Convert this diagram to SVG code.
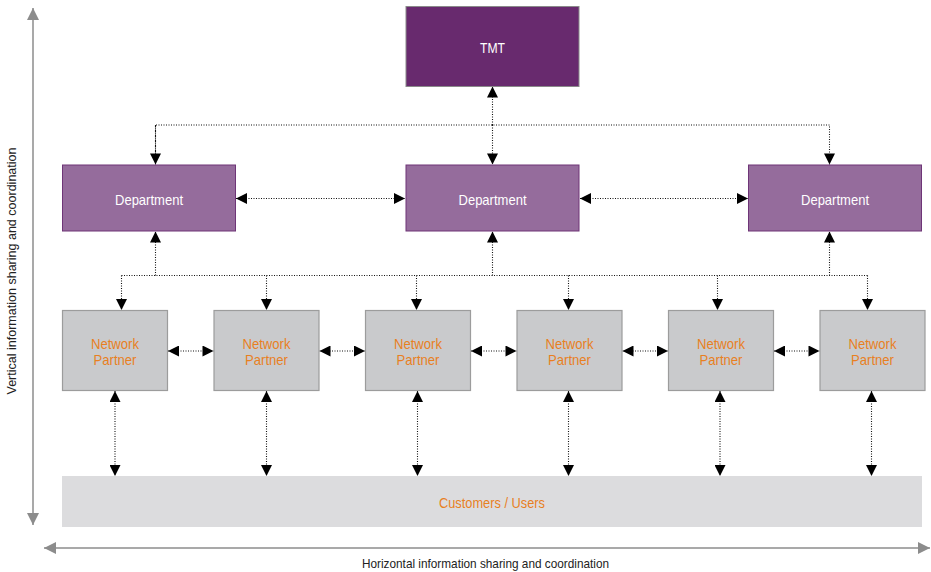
<svg xmlns="http://www.w3.org/2000/svg" width="931" height="572" viewBox="0 0 931 572">
<style>
.tmt{fill:#682a6e;stroke:#8a8a8a;stroke-width:1}
.dept{fill:#956c9c;stroke:#6e3577;stroke-width:1}
.np{fill:#c9cacc;stroke:#9c9c9c;stroke-width:1.2}
.cust{fill:#dcdcde}
.wt{fill:#ffffff;font-family:"Liberation Sans",Arial,sans-serif;font-size:15px;text-anchor:middle}
.ot{fill:#e8801f;font-family:"Liberation Sans",Arial,sans-serif;font-size:15px;text-anchor:middle}
.lab{fill:#222222;font-family:"Liberation Sans",Arial,sans-serif;font-size:13px;text-anchor:middle}
.dot{fill:none;stroke:#111111;stroke-width:1.1;stroke-dasharray:1 1.5}
.axis{fill:none;stroke:#8c8c8c;stroke-width:1.5}
</style>
<defs>
<marker id="ah" viewBox="0 0 10 10" refX="10" refY="5" markerWidth="15" markerHeight="11" markerUnits="userSpaceOnUse" orient="auto-start-reverse">
<path d="M0,0 L10,5 L0,10 z" fill="#000000"/>
</marker>
<marker id="ga" viewBox="0 0 10 10" refX="10" refY="5" markerWidth="16" markerHeight="12" markerUnits="userSpaceOnUse" orient="auto-start-reverse">
<path d="M0,0 L10,5 L0,10 z" fill="#8c8c8c"/>
</marker>
</defs>

<g id="axes">
<line class="axis" x1="33" y1="8" x2="33" y2="525" marker-start="url(#ga)" marker-end="url(#ga)"/>
<line class="axis" x1="44" y1="548" x2="930" y2="548" marker-start="url(#ga)" marker-end="url(#ga)"/>
<text class="lab" transform="translate(16,271) rotate(-90)" textLength="247" lengthAdjust="spacingAndGlyphs">Vertical information sharing and coordination</text>
<text class="lab" x="485.5" y="568" textLength="247" lengthAdjust="spacingAndGlyphs">Horizontal information sharing and coordination</text>
</g>

<g id="connectors">
<!-- TMT to departments -->
<line class="dot" x1="492.5" y1="125" x2="492.5" y2="86.5" marker-end="url(#ah)"/>
<line class="dot" x1="492.5" y1="125" x2="492.5" y2="164.5" marker-end="url(#ah)"/>
<polyline class="dot" points="155.5,164.5 155.5,125 829.5,125 829.5,164.5" marker-end="url(#ah)"/>
<line class="dot" x1="155.5" y1="125" x2="155.5" y2="164.5" marker-end="url(#ah)"/>
<!-- department to department -->
<line class="dot" x1="236" y1="198.5" x2="405" y2="198.5" marker-start="url(#ah)" marker-end="url(#ah)"/>
<line class="dot" x1="580" y1="198.5" x2="748" y2="198.5" marker-start="url(#ah)" marker-end="url(#ah)"/>
<!-- departments to network partners -->
<line class="dot" x1="121.5" y1="275.5" x2="867.5" y2="275.5"/>
<line class="dot" x1="155.5" y1="275.5" x2="155.5" y2="231.5" marker-end="url(#ah)"/>
<line class="dot" x1="492.5" y1="275.5" x2="492.5" y2="231.5" marker-end="url(#ah)"/>
<line class="dot" x1="829.5" y1="275.5" x2="829.5" y2="231.5" marker-end="url(#ah)"/>
<line class="dot" x1="121.5" y1="275.5" x2="121.5" y2="310" marker-end="url(#ah)"/>
<line class="dot" x1="266.5" y1="275.5" x2="266.5" y2="310" marker-end="url(#ah)"/>
<line class="dot" x1="416.5" y1="275.5" x2="416.5" y2="310" marker-end="url(#ah)"/>
<line class="dot" x1="568.5" y1="275.5" x2="568.5" y2="310" marker-end="url(#ah)"/>
<line class="dot" x1="717.5" y1="275.5" x2="717.5" y2="310" marker-end="url(#ah)"/>
<line class="dot" x1="867.5" y1="275.5" x2="867.5" y2="310" marker-end="url(#ah)"/>
<!-- network partner to network partner -->
<line class="dot" x1="168" y1="351" x2="213.5" y2="351" marker-start="url(#ah)" marker-end="url(#ah)"/>
<line class="dot" x1="319.5" y1="351" x2="365" y2="351" marker-start="url(#ah)" marker-end="url(#ah)"/>
<line class="dot" x1="471" y1="351" x2="516.5" y2="351" marker-start="url(#ah)" marker-end="url(#ah)"/>
<line class="dot" x1="622.5" y1="351" x2="668" y2="351" marker-start="url(#ah)" marker-end="url(#ah)"/>
<line class="dot" x1="774" y1="351" x2="819.5" y2="351" marker-start="url(#ah)" marker-end="url(#ah)"/>
<!-- network partners to customers -->
<line class="dot" x1="115" y1="391" x2="115" y2="476" marker-start="url(#ah)" marker-end="url(#ah)"/>
<line class="dot" x1="266.5" y1="391" x2="266.5" y2="476" marker-start="url(#ah)" marker-end="url(#ah)"/>
<line class="dot" x1="417.5" y1="391" x2="417.5" y2="476" marker-start="url(#ah)" marker-end="url(#ah)"/>
<line class="dot" x1="568.5" y1="391" x2="568.5" y2="476" marker-start="url(#ah)" marker-end="url(#ah)"/>
<line class="dot" x1="720" y1="391" x2="720" y2="476" marker-start="url(#ah)" marker-end="url(#ah)"/>
<line class="dot" x1="871.5" y1="391" x2="871.5" y2="476" marker-start="url(#ah)" marker-end="url(#ah)"/>
</g>

<g id="tmt">
<rect class="tmt" x="406" y="6.5" width="173" height="80"/>
<text class="wt" x="492.5" y="53" font-size="14" textLength="25" lengthAdjust="spacingAndGlyphs">TMT</text>
</g>

<g id="dept-left">
<rect class="dept" x="62.5" y="165" width="173" height="66"/>
<text class="wt" x="149" y="205" textLength="68" lengthAdjust="spacingAndGlyphs">Department</text>
</g>
<g id="dept-middle">
<rect class="dept" x="406" y="165" width="173" height="66"/>
<text class="wt" x="492.5" y="205" textLength="68" lengthAdjust="spacingAndGlyphs">Department</text>
</g>
<g id="dept-right">
<rect class="dept" x="748.5" y="165" width="173" height="66"/>
<text class="wt" x="835" y="205" textLength="68" lengthAdjust="spacingAndGlyphs">Department</text>
</g>

<g id="np1">
<rect class="np" x="62.5" y="310.5" width="105" height="80"/>
<text class="ot" x="115" y="349" textLength="48" lengthAdjust="spacingAndGlyphs">Network</text>
<text class="ot" x="115" y="365" textLength="43" lengthAdjust="spacingAndGlyphs">Partner</text>
</g>
<g id="np2">
<rect class="np" x="214" y="310.5" width="105" height="80"/>
<text class="ot" x="266.5" y="349" textLength="48" lengthAdjust="spacingAndGlyphs">Network</text>
<text class="ot" x="266.5" y="365" textLength="43" lengthAdjust="spacingAndGlyphs">Partner</text>
</g>
<g id="np3">
<rect class="np" x="365.5" y="310.5" width="105" height="80"/>
<text class="ot" x="418" y="349" textLength="48" lengthAdjust="spacingAndGlyphs">Network</text>
<text class="ot" x="418" y="365" textLength="43" lengthAdjust="spacingAndGlyphs">Partner</text>
</g>
<g id="np4">
<rect class="np" x="517" y="310.5" width="105" height="80"/>
<text class="ot" x="569.5" y="349" textLength="48" lengthAdjust="spacingAndGlyphs">Network</text>
<text class="ot" x="569.5" y="365" textLength="43" lengthAdjust="spacingAndGlyphs">Partner</text>
</g>
<g id="np5">
<rect class="np" x="668.5" y="310.5" width="105" height="80"/>
<text class="ot" x="721" y="349" textLength="48" lengthAdjust="spacingAndGlyphs">Network</text>
<text class="ot" x="721" y="365" textLength="43" lengthAdjust="spacingAndGlyphs">Partner</text>
</g>
<g id="np6">
<rect class="np" x="820" y="310.5" width="105" height="80"/>
<text class="ot" x="872.5" y="349" textLength="48" lengthAdjust="spacingAndGlyphs">Network</text>
<text class="ot" x="872.5" y="365" textLength="43" lengthAdjust="spacingAndGlyphs">Partner</text>
</g>

<g id="customers">
<rect class="cust" x="62" y="476" width="860" height="51"/>
<text class="ot" x="492" y="508" font-size="14" textLength="106" lengthAdjust="spacingAndGlyphs">Customers / Users</text>
</g>
</svg>
